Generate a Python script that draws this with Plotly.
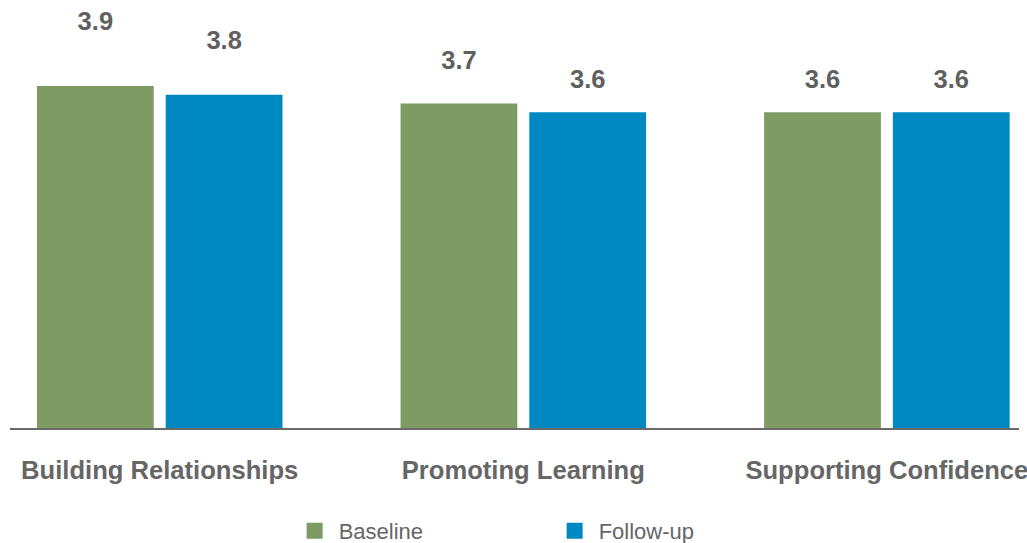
import plotly.graph_objects as go

categories = ["Building Relationships", "Promoting Learning", "Supporting Confidence"]
baseline = [3.9, 3.7, 3.6]
follow_up = [3.8, 3.6, 3.6]
series_names = ["Baseline", "Follow-up"]
colors = ["#7d9b62", "#0088c2"]

TEXT_GRAY = "#606060"
FONT = "Liberation Sans"

fig = go.Figure()
for name, vals, col in zip(series_names, [baseline, follow_up], colors):
    fig.add_trace(go.Bar(x=categories, y=vals, name=name, marker_color=col,
                         marker_line_width=0, showlegend=False))
# value labels on an overlaid axis (transparent bars carry the text)
for name, vals in zip(series_names, [baseline, follow_up]):
    fig.add_trace(go.Bar(x=categories, y=vals, yaxis="y2", showlegend=False,
                         marker_color="rgba(0,0,0,0)", marker_line_width=0,
                         text=[f"{v:.1f}" for v in vals], textposition="outside",
                         constraintext="none", cliponaxis=False,
                         textfont=dict(family=FONT, size=25.5, color=TEXT_GRAY, weight="bold"),
                         hoverinfo="skip"))
# legend entries
for name, col in zip(series_names, colors):
    fig.add_trace(go.Scatter(x=[categories[0]], y=[None], mode="markers", name=name,
                             marker=dict(symbol="square", size=16, color=col)))

fig.update_layout(
    width=1027, height=543,
    margin=dict(l=10, r=0, t=0, b=115),
    paper_bgcolor="white", plot_bgcolor="white",
    barmode="group", bargap=0.2917, bargroupgap=0.093,
    xaxis=dict(range=[-0.4118, 2.3634], showline=True, linecolor="#6a6a6a", linewidth=1.5,
               showgrid=False, ticks="", zeroline=False, ticklabelstandoff=19,
               tickfont=dict(family=FONT, size=25.6, color="#666666", weight="bold")),
    yaxis=dict(range=[0, 4.88], visible=False, showgrid=False, zeroline=False),
    yaxis2=dict(range=[1.8825, 4.0966], overlaying="y", visible=False, showgrid=False,
                zeroline=False),
    showlegend=True,
    legend=dict(orientation="h", xref="container", yref="container",
                x=0.283, xanchor="left", y=0.022, yanchor="middle",
                itemwidth=38,
                font=dict(family=FONT, size=22, color="#666666"),
                entrywidth=207, entrywidthmode="pixels", bgcolor="rgba(0,0,0,0)"),
)

fig.write_html("out.html", config={"displayModeBar": False},
               post_script="document.body.style.margin='0';document.body.style.padding='0';document.body.style.overflow='hidden';")
